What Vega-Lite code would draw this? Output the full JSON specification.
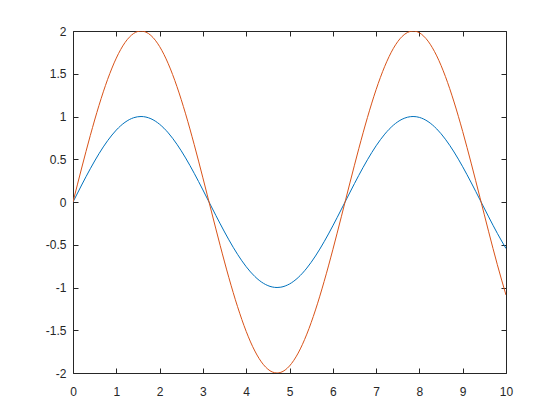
{
  "$schema": "https://vega.github.io/schema/vega-lite/v6.json",
  "width": 433,
  "height": 342,
  "autosize": {"type": "none"},
  "padding": {"left": 73, "top": 31, "right": 54, "bottom": 47},
  "background": "white",
  "config": {
    "view": {"stroke": null},
    "axis": {
      "grid": false,
      "domainColor": "#262626",
      "tickColor": "#262626",
      "labelColor": "#262626",
      "labelFont": "Liberation Sans",
      "labelFontSize": 12,
      "tickSize": -5,
      "domainWidth": 1,
      "tickWidth": 1,
      "labelFlush": false,
      "labelOverlap": false,
      "title": null
    }
  },
  "data": {
    "values": [
      {"x": 0, "a": 0, "b": 0},
      {"x": 0.2, "a": 0.1987, "b": 0.3973},
      {"x": 0.4, "a": 0.3894, "b": 0.7788},
      {"x": 0.6, "a": 0.5646, "b": 1.1293},
      {"x": 0.8, "a": 0.7174, "b": 1.4347},
      {"x": 1.0, "a": 0.8415, "b": 1.6829},
      {"x": 1.2, "a": 0.9320, "b": 1.8641},
      {"x": 1.4, "a": 0.9854, "b": 1.9709},
      {"x": 1.5708, "a": 1.0, "b": 2.0},
      {"x": 1.8, "a": 0.9738, "b": 1.9477},
      {"x": 2.0, "a": 0.9093, "b": 1.8186},
      {"x": 2.2, "a": 0.8085, "b": 1.6170},
      {"x": 2.4, "a": 0.6755, "b": 1.3509},
      {"x": 2.6, "a": 0.5155, "b": 1.0311},
      {"x": 2.8, "a": 0.3350, "b": 0.6700},
      {"x": 3.0, "a": 0.1411, "b": 0.2822},
      {"x": 3.2, "a": -0.0584, "b": -0.1167},
      {"x": 3.4, "a": -0.2555, "b": -0.5110},
      {"x": 3.6, "a": -0.4425, "b": -0.8851},
      {"x": 3.8, "a": -0.6119, "b": -1.2238},
      {"x": 4.0, "a": -0.7568, "b": -1.5136},
      {"x": 4.2, "a": -0.8716, "b": -1.7432},
      {"x": 4.4, "a": -0.9516, "b": -1.9032},
      {"x": 4.6, "a": -0.9937, "b": -1.9874},
      {"x": 4.7124, "a": -1.0, "b": -2.0},
      {"x": 4.8, "a": -0.9962, "b": -1.9923},
      {"x": 5.0, "a": -0.9589, "b": -1.9178},
      {"x": 5.2, "a": -0.8835, "b": -1.7670},
      {"x": 5.4, "a": -0.7728, "b": -1.5455},
      {"x": 5.6, "a": -0.6313, "b": -1.2625},
      {"x": 5.8, "a": -0.4646, "b": -0.9292},
      {"x": 6.0, "a": -0.2794, "b": -0.5588},
      {"x": 6.2, "a": -0.0831, "b": -0.1663},
      {"x": 6.4, "a": 0.1165, "b": 0.2330},
      {"x": 6.6, "a": 0.3115, "b": 0.6230},
      {"x": 6.8, "a": 0.4941, "b": 0.9883},
      {"x": 7.0, "a": 0.6570, "b": 1.3140},
      {"x": 7.2, "a": 0.7937, "b": 1.5874},
      {"x": 7.4, "a": 0.8987, "b": 1.7975},
      {"x": 7.6, "a": 0.9679, "b": 1.9358},
      {"x": 7.854, "a": 1.0, "b": 2.0},
      {"x": 8.0, "a": 0.9894, "b": 1.9787},
      {"x": 8.2, "a": 0.9407, "b": 1.8814},
      {"x": 8.4, "a": 0.8546, "b": 1.7091},
      {"x": 8.6, "a": 0.7344, "b": 1.4688},
      {"x": 8.8, "a": 0.5849, "b": 1.1699},
      {"x": 9.0, "a": 0.4121, "b": 0.8242},
      {"x": 9.2, "a": 0.2229, "b": 0.4457},
      {"x": 9.4, "a": 0.0248, "b": 0.0496},
      {"x": 9.6, "a": -0.1743, "b": -0.3486},
      {"x": 9.8, "a": -0.3665, "b": -0.7330},
      {"x": 10.0, "a": -0.5440, "b": -1.0880}
    ]
  },
  "layer": [
    {
      "mark": {"type": "line", "color": "#0072BD", "strokeWidth": 1, "interpolate": "monotone", "clip": true},
      "encoding": {
        "x": {"field": "x", "type": "quantitative", "scale": {"domain": [0, 10], "nice": false, "zero": false},
              "axis": {"orient": "bottom", "values": [0,1,2,3,4,5,6,7,8,9,10], "labelPadding": 18, "labelExpr": "'' + datum.value"}},
        "y": {"field": "a", "type": "quantitative", "scale": {"domain": [-2, 2], "nice": false},
              "axis": {"orient": "left", "values": [-2,-1.5,-1,-0.5,0,0.5,1,1.5,2], "labelPadding": 12, "labelExpr": "'' + datum.value"}}
      }
    },
    {
      "mark": {"type": "line", "color": "#D95319", "strokeWidth": 1, "interpolate": "monotone", "clip": true},
      "encoding": {
        "x": {"field": "x", "type": "quantitative", "scale": {"domain": [0, 10], "nice": false, "zero": false},
              "axis": {"orient": "top", "values": [0,1,2,3,4,5,6,7,8,9,10], "labels": false}},
        "y": {"field": "b", "type": "quantitative", "scale": {"domain": [-2, 2], "nice": false},
              "axis": {"orient": "right", "values": [-2,-1.5,-1,-0.5,0,0.5,1,1.5,2], "labels": false}}
      }
    }
  ],
  "resolve": {"axis": {"x": "independent", "y": "independent"}}
}
